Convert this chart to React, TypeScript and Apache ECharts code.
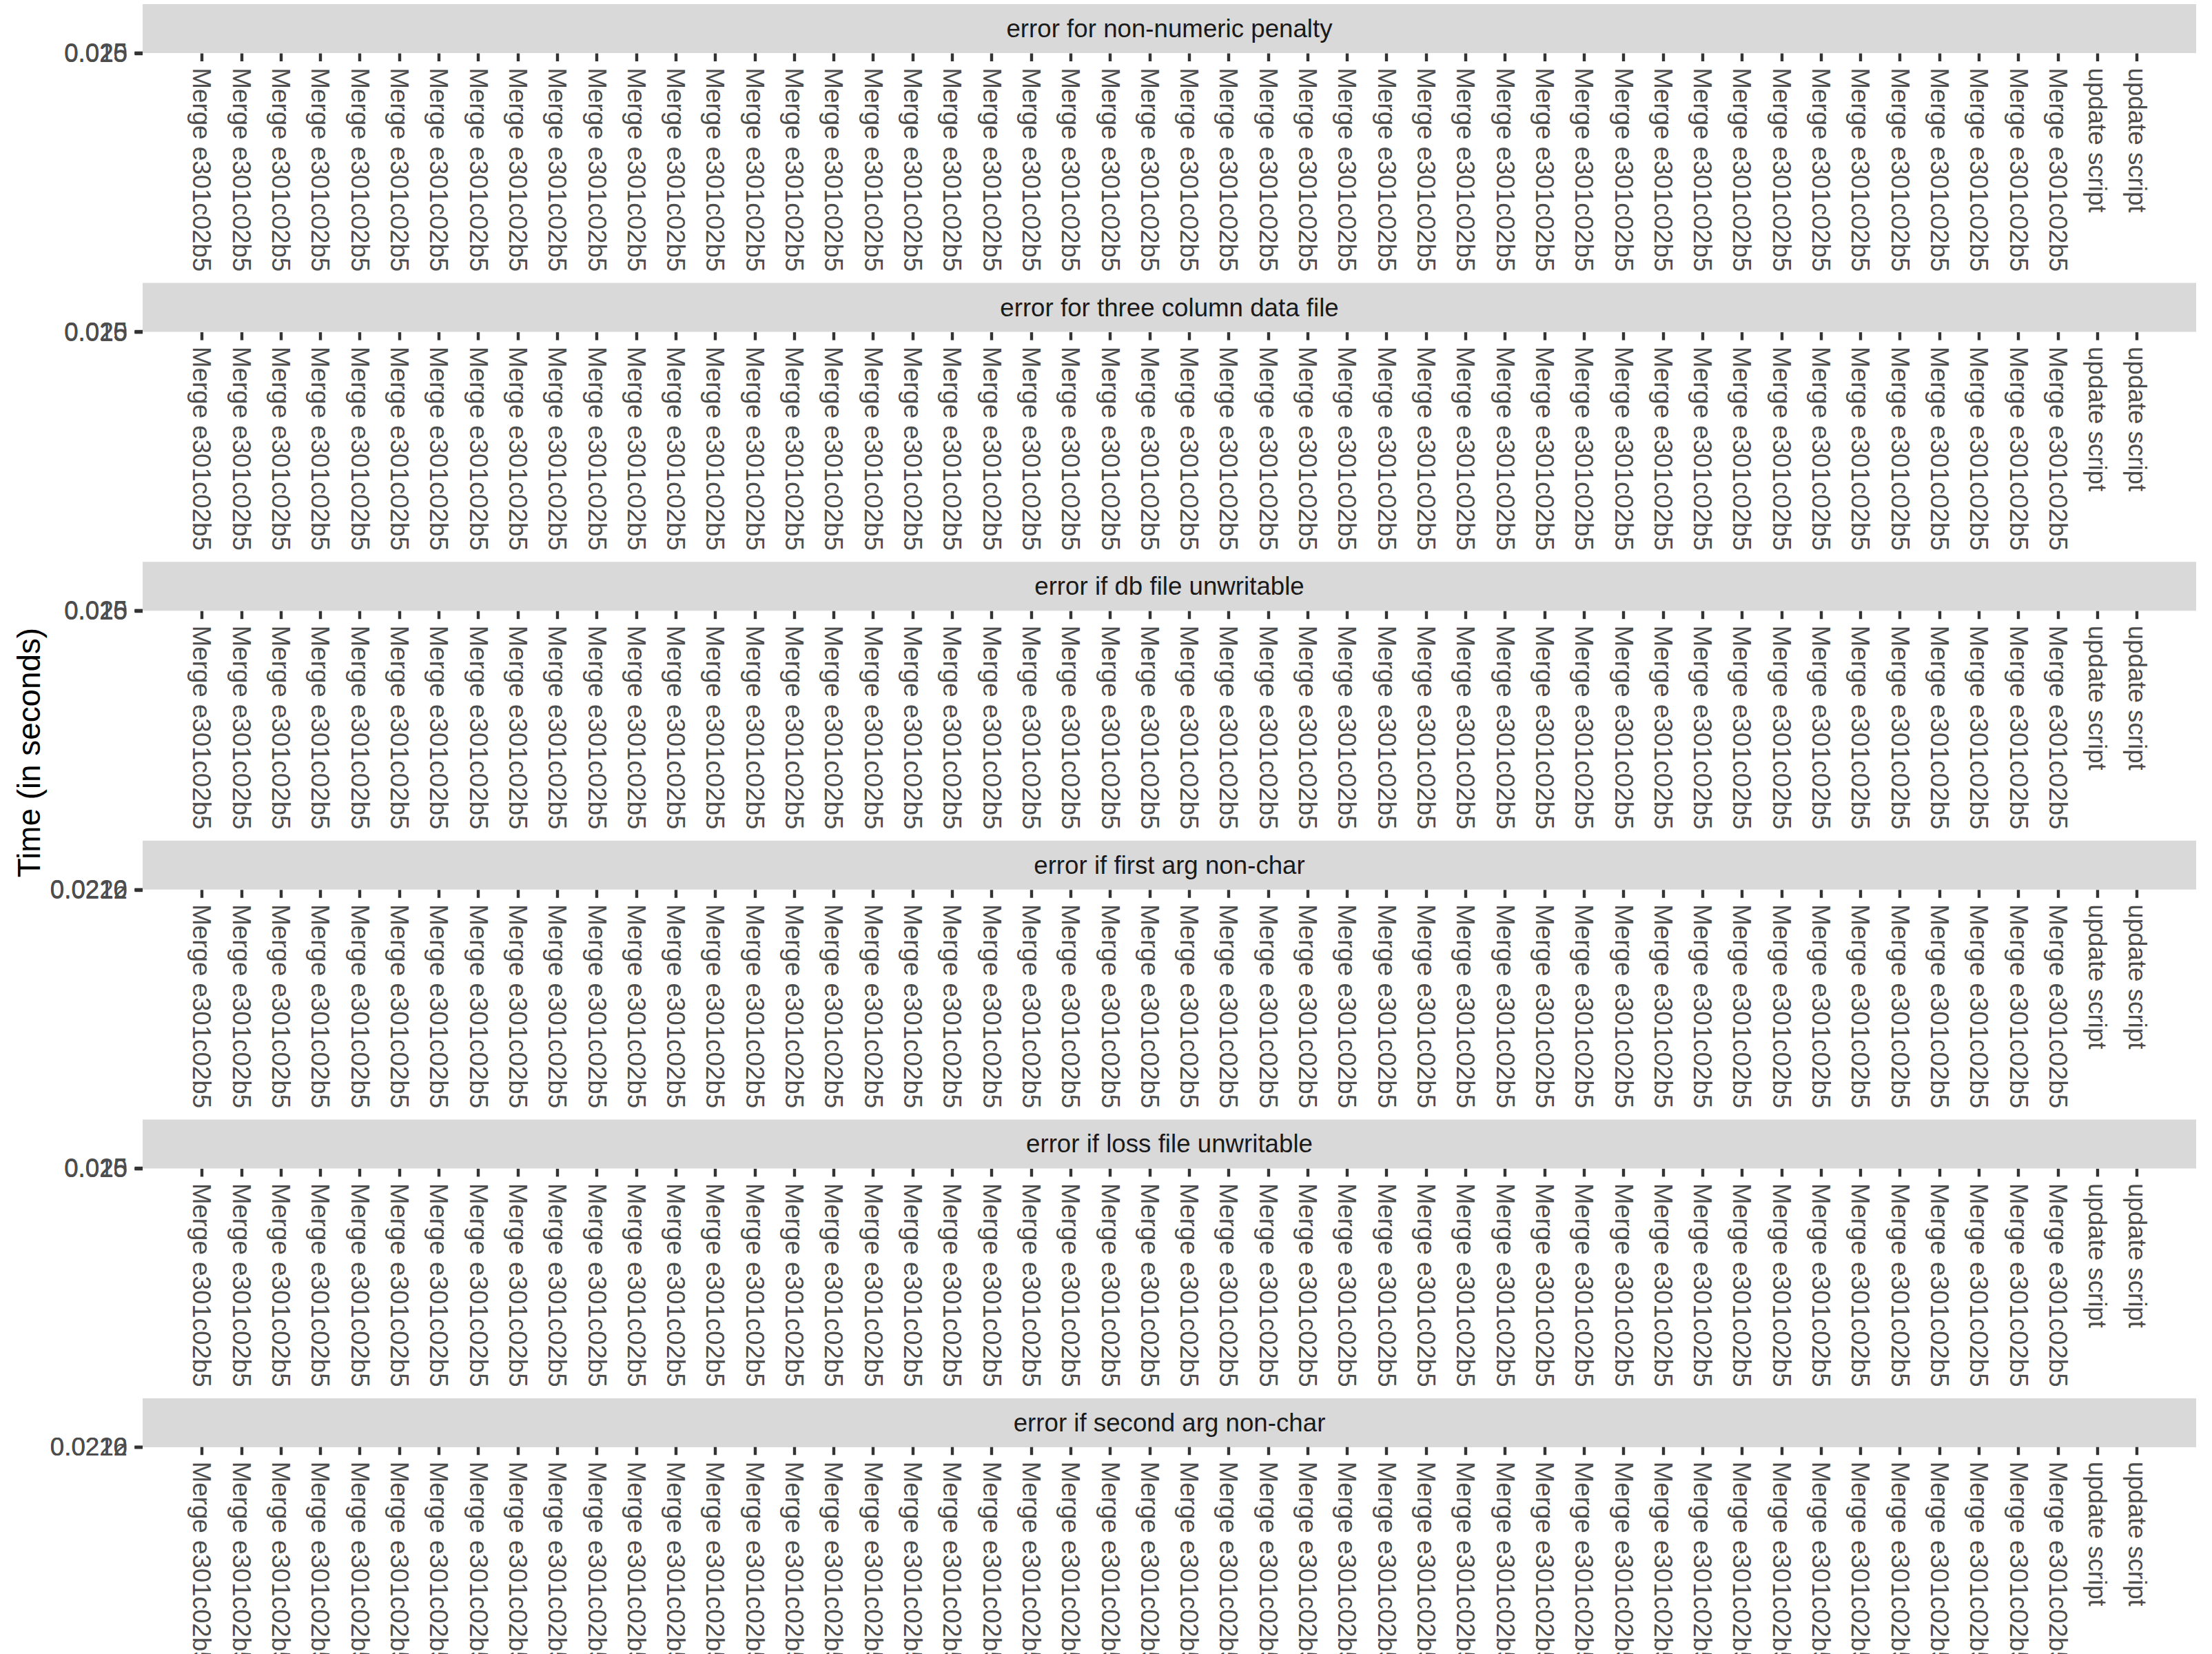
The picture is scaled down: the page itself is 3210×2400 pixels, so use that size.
import React, { useEffect, useRef } from "react";
import * as echarts from "echarts";

const panels = [
  "error for non-numeric penalty",
  "error for three column data file",
  "error if db file unwritable",
  "error if first arg non-char",
  "error if loss file unwritable",
  "error if second arg non-char",
];

const commits: string[] = [
  ...Array(48).fill("Merge e301c02b5"),
  "update script",
  "update script",
];

const yTicksA = ["0.015", "0.020", "0.025"];
const yTicksB = ["0.0212", "0.0216", "0.0220"];
const yTicks = [yTicksA, yTicksA, yTicksA, yTicksB, yTicksA, yTicksB];

// no visible marks in the reference: each panel has zero height
const panelTimes: number[][] = [[], [], [], [], [], []];

const W = 3210;
const H = 2400;
const PANEL_L = 207;
const PANEL_R = 3187;
const STRIP_H = 71;
const FIRST_BOTTOM = 77;
const ROW_STEP = 404.6;
const FONT = "Liberation Sans, Arial, sans-serif";

export default function App() {
  const ref = useRef<HTMLDivElement>(null);
  useEffect(() => {
    if (!ref.current) return;
    const chart = echarts.init(ref.current, undefined, { renderer: "svg" });
    const step = (PANEL_R - PANEL_L) / (commits.length + 2);
    const grids: any[] = [];
    const xAxes: any[] = [];
    const yAxes: any[] = [];
    const series: any[] = [];
    const graphics: any[] = [];
    panels.forEach((name, i) => {
      const b = FIRST_BOTTOM + ROW_STEP * i;
      grids.push({
        left: PANEL_L + step,
        right: W - (PANEL_R - step),
        top: b - 0.5,
        height: 1,
        containLabel: false,
      });
      xAxes.push({
        type: "category",
        gridIndex: i,
        data: commits,
        boundaryGap: true,
        axisLine: { show: false },
        axisTick: {
          show: true,
          alignWithLabel: true,
          interval: 0,
          length: 11.5,
          lineStyle: { color: "#333333", width: 4.4 },
        },
        axisLabel: {
          interval: 0,
          rotate: -90,
          margin: 21,
          color: "#4D4D4D",
          fontSize: 36.7,
          fontFamily: FONT,
        },
        splitLine: { show: false },
      });
      yAxes.push({
        type: "category",
        gridIndex: i,
        data: yTicks[i],
        boundaryGap: false,
        offset: step,
        axisLine: { show: false },
        axisTick: {
          show: true,
          interval: 0,
          length: 11.5,
          lineStyle: { color: "#333333", width: 4.4 },
        },
        axisLabel: {
          interval: 0,
          margin: 22,
          color: "#4D4D4D",
          fontSize: 36.7,
          fontFamily: FONT,
        },
        splitLine: { show: false },
      });
      series.push({
        type: "scatter",
        xAxisIndex: i,
        yAxisIndex: i,
        data: panelTimes[i],
      });
      graphics.push({
        type: "rect",
        shape: { x: PANEL_L, y: b - STRIP_H, width: PANEL_R - PANEL_L, height: STRIP_H },
        style: { fill: "#D9D9D9" },
        silent: true,
      });
      graphics.push({
        type: "text",
        x: (PANEL_L + PANEL_R) / 2,
        y: b - STRIP_H / 2,
        style: {
          text: name,
          fill: "#1A1A1A",
          fontSize: 36.7,
          fontFamily: FONT,
          align: "center",
          verticalAlign: "middle",
        },
        silent: true,
      });
    });
    graphics.push({
      type: "text",
      x: 42,
      y: 1092,
      rotation: Math.PI / 2,
      style: {
        text: "Time (in seconds)",
        fill: "#000000",
        fontSize: 45.8,
        fontFamily: FONT,
        align: "center",
        verticalAlign: "middle",
      },
      silent: true,
    });
    chart.setOption({
      animation: false,
      backgroundColor: "#FFFFFF",
      grid: grids,
      xAxis: xAxes,
      yAxis: yAxes,
      series,
      graphic: graphics,
    });
    return () => chart.dispose();
  }, []);
  return (
    <div
      ref={ref}
      style={{ position: "absolute", left: 0, top: 0, width: W, height: H }}
    />
  );
}
